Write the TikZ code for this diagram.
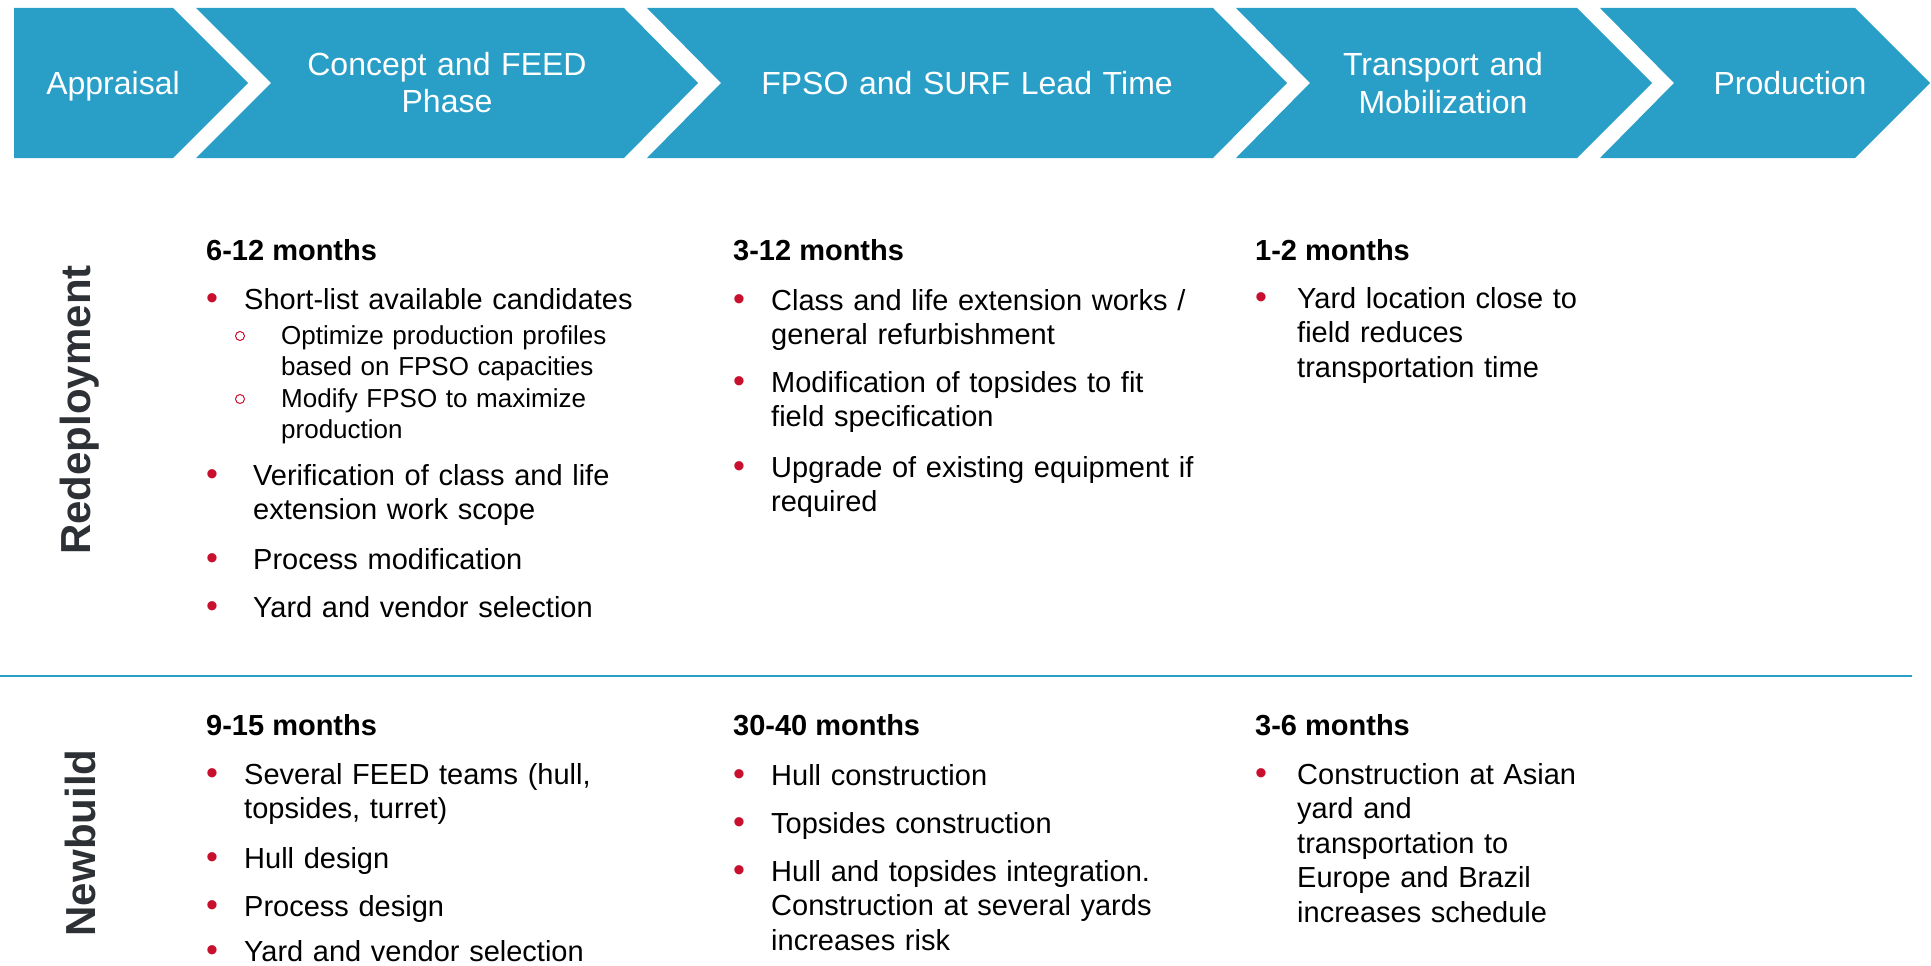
\documentclass[tikz,border=0pt]{standalone}
\usepackage{fontspec}
\setmainfont{Liberation Sans}
\usepackage{tikz}

\definecolor{phaseblue}{RGB}{41,159,200}
\definecolor{bulletred}{RGB}{200,16,46}
\definecolor{rowgray}{RGB}{45,48,52}

\tikzset{
  phase/.style={fill=phaseblue},
  phaselabel/.style={anchor=base, inner sep=0, text=white, text width=600pt,
    align=center, font=\fontsize{32}{38}\selectfont},
  rowlabel/.style={inner sep=0, text=rowgray, rotate=90,
    font=\fontsize{42}{48}\selectfont\bfseries},
  months/.style={anchor=base west, inner sep=0,
    font=\fontsize{29}{34}\selectfont\bfseries},
  item/.style={anchor=base west, inner sep=0, text width=500pt, align=left,
    font=\fontsize{29}{34.5}\selectfont},
  subitem/.style={anchor=base west, inner sep=0, text width=500pt, align=left,
    font=\fontsize{26}{31}\selectfont},
  dot/.style={anchor=base, inner sep=0, text=bulletred,
    font=\fontsize{34}{34}\selectfont},
  ring/.style={draw=bulletred, line width=1pt},
  sepline/.style={draw=phaseblue, line width=2.5pt},
}

\begin{document}
\begin{tikzpicture}[x=1pt, y=-1pt]
  % Sizes
  \pgfmathsetmacro{\bartop}{8}
  \pgfmathsetmacro{\barbot}{158}
  \pgfmathsetmacro{\barmid}{83}
  \useasboundingbox (0,0) rectangle (1931,966);

  % phase chevrons
  \fill[phase] (14,\bartop) -- (173,\bartop) -- (248,\barmid) -- (173,\barbot) -- (14,\barbot) -- cycle;
  \fill[phase] (196,\bartop) -- (624,\bartop) -- (698,\barmid) -- (624,\barbot) -- (196,\barbot) -- (271,\barmid) -- cycle;
  \fill[phase] (647,\bartop) -- (1213,\bartop) -- (1287,\barmid) -- (1213,\barbot) -- (647,\barbot) -- (721,\barmid) -- cycle;
  \fill[phase] (1236,\bartop) -- (1577,\bartop) -- (1652,\barmid) -- (1577,\barbot) -- (1236,\barbot) -- (1310,\barmid) -- cycle;
  \fill[phase] (1600,\bartop) -- (1855,\bartop) -- (1930,\barmid) -- (1855,\barbot) -- (1600,\barbot) -- (1674,\barmid) -- cycle;

  \node[phaselabel] (appraisal) at (113,95) {Appraisal};
  \node[phaselabel] (concept) at (447,75) {Concept and FEED\\Phase};
  \node[phaselabel] (leadtime) at (967,95) {FPSO and SURF Lead Time};
  \node[phaselabel] (transport) at (1443,76) {Transport and\\Mobilization};
  \node[phaselabel] (production) at (1790,95) {Production};

  % row labels
  \node[rowlabel] (redeploy) at (80,410) {Redeployment};
  \node[rowlabel] (newbuild) at (80,843) {Newbuild};

  \coordinate (sepl) at (0,676);
  \coordinate (sepr) at (1912,676);
  \draw[sepline] (sepl) -- (sepr);

  % redeployment, concept and FEED
  \node[months] (r-feed) at (206,260) {6-12 months};
  \node[dot] at (212,309) {•};
  \node[item] (r-feed-1) at (244,309) {Short-list available candidates};
  \draw[ring] (240,336) circle (4.5);
  \node[subitem] (r-feed-1a) at (281,344) {Optimize production profiles\\based on FPSO capacities};
  \draw[ring] (240,399) circle (4.5);
  \node[subitem] (r-feed-1b) at (281,407) {Modify FPSO to maximize\\production};
  \node[dot] at (212,485) {•};
  \node[item] (r-feed-2) at (253,485) {Verification of class and life\\extension work scope};
  \node[dot] at (212,569) {•};
  \node[item] (r-feed-3) at (253,569) {Process modification};
  \node[dot] at (212,617) {•};
  \node[item] (r-feed-4) at (253,617) {Yard and vendor selection};

  % redeployment, lead time
  \node[months] (r-lead) at (733,260) {3-12 months};
  \node[dot] at (739,310) {•};
  \node[item] (r-lead-1) at (771,310) {Class and life extension works /\\general refurbishment};
  \node[dot] at (739,392) {•};
  \node[item] (r-lead-2) at (771,392) {Modification of topsides to fit\\field specification};
  \node[dot] at (739,477) {•};
  \node[item] (r-lead-3) at (771,477) {Upgrade of existing equipment if\\required};

  % redeployment, mobilization
  \node[months] (r-mob) at (1255,260) {1-2 months};
  \node[dot] at (1261,308) {•};
  \node[item] (r-mob-1) at (1297,308) {Yard location close to\\field reduces\\transportation time};

  % newbuild, concept and FEED
  \node[months] (n-feed) at (206,735) {9-15 months};
  \node[dot] at (212,784) {•};
  \node[item] (n-feed-1) at (244,784) {Several FEED teams (hull,\\topsides, turret)};
  \node[dot] at (212,868) {•};
  \node[item] (n-feed-2) at (244,868) {Hull design};
  \node[dot] at (212,916) {•};
  \node[item] (n-feed-3) at (244,916) {Process design};
  \node[dot] at (212,961) {•};
  \node[item] (n-feed-4) at (244,961) {Yard and vendor selection};

  % newbuild, lead time
  \node[months] (n-lead) at (733,735) {30-40 months};
  \node[dot] at (739,785) {•};
  \node[item] (n-lead-1) at (771,785) {Hull construction};
  \node[dot] at (739,833) {•};
  \node[item] (n-lead-2) at (771,833) {Topsides construction};
  \node[dot] at (739,881) {•};
  \node[item] (n-lead-3) at (771,881) {Hull and topsides integration.\\Construction at several yards\\increases risk};

  % newbuild, mobilization
  \node[months] (n-mob) at (1255,735) {3-6 months};
  \node[dot] at (1261,784) {•};
  \node[item] (n-mob-1) at (1297,784) {Construction at Asian\\yard and\\transportation to\\Europe and Brazil\\increases schedule};
\end{tikzpicture}
\end{document}
